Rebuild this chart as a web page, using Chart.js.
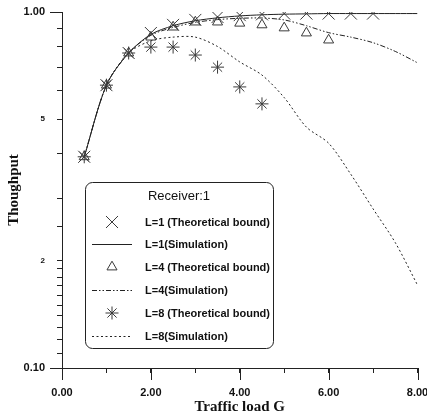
<!DOCTYPE html>
<html>
<head>
<meta charset="utf-8">
<script src="https://cdn.jsdelivr.net/npm/chart.js@4/dist/chart.umd.min.js"></script>
<style>
  html, body { margin: 0; padding: 0; background: #fff; }
  #wrap { width: 427px; height: 416px; }
</style>
</head>
<body>
<div id="wrap"><canvas id="chart" width="427" height="416"></canvas></div>
<script>
// Traffic load values (x)
const loadsSim = [0.5, 1.0, 1.5, 2.0, 2.5, 3.0, 3.5, 4.0, 4.5, 5.0, 5.5, 6.0, 6.5, 7.0, 7.5, 8.0];
const loadsL1 = [0.5, 1.0, 1.5, 2.0, 2.5, 3.0, 3.5, 4.0, 4.5, 5.0, 5.5, 6.0, 6.5, 7.0];
const loadsL4 = [0.5, 1.0, 1.5, 2.0, 2.5, 3.0, 3.5, 4.0, 4.5, 5.0, 5.5, 6.0];
const loadsL8 = [0.5, 1.0, 1.5, 2.0, 2.5, 3.0, 3.5, 4.0, 4.5];

// Throughput values
const l1Theory = [0.392, 0.623, 0.767, 0.873, 0.92, 0.95, 0.968, 0.98, 0.985, 0.99, 0.99, 0.99, 0.99, 0.99];
const l1Sim = [0.392, 0.623, 0.767, 0.865, 0.915, 0.945, 0.963, 0.975, 0.982, 0.986, 0.988, 0.99, 0.99, 0.99, 0.99, 0.99];
const l4Theory = [0.392, 0.623, 0.767, 0.85, 0.907, 0.937, 0.937, 0.93, 0.92, 0.902, 0.873, 0.834];
const l4Sim = [0.392, 0.623, 0.767, 0.86, 0.905, 0.935, 0.952, 0.96, 0.962, 0.95, 0.915, 0.875, 0.85, 0.82, 0.775, 0.72];
const l8Theory = [0.392, 0.623, 0.767, 0.797, 0.797, 0.757, 0.70, 0.616, 0.552];
const l8Sim = [0.392, 0.623, 0.767, 0.83, 0.85, 0.85, 0.80, 0.724, 0.665, 0.575, 0.475, 0.428, 0.35, 0.28, 0.225, 0.171];

// Labels
const legendTitle = 'Receiver:1';
const seriesNames = [
    'L=1 (Theoretical bound)',
    'L=1(Simulation)',
    'L=4 (Theoretical bound)',
    'L=4(Simulation)',
    'L=8 (Theoretical bound)',
    'L=8(Simulation)'
];
const yTickText = { 1: '1.00', 0.5: '5', 0.2: '2', 0.1: '0.10' };

const INK = '#222';
const MARK = '#3a3a3a';

function toPoints(xs, ys) {
    return xs.map((x, i) => ({ x: x, y: ys[i] }));
}

function markerSet(label, xs, ys, style, radius) {
    return {
        label: label,
        data: toPoints(xs, ys),
        showLine: false,
        pointStyle: style,
        pointRadius: radius,
        pointHoverRadius: radius,
        pointBorderColor: MARK,
        pointBackgroundColor: 'rgba(0,0,0,0)',
        pointBorderWidth: 1,
        order: 0
    };
}

function lineSet(label, xs, ys, dash) {
    return {
        label: label,
        data: toPoints(xs, ys),
        borderColor: INK,
        borderWidth: 1,
        borderDash: dash,
        pointRadius: 0,
        tension: 0.3,
        fill: false,
        order: 1
    };
}

const datasets = [
    markerSet(seriesNames[0], loadsL1, l1Theory, 'crossRot', 8.5),
    lineSet(seriesNames[1], loadsSim, l1Sim, []),
    markerSet(seriesNames[2], loadsL4, l4Theory, 'triangle', 5.8),
    lineSet(seriesNames[3], loadsSim, l4Sim, [5, 2, 1.5, 2, 1.5, 2]),
    markerSet(seriesNames[4], loadsL8, l8Theory, 'star', 6.5),
    lineSet(seriesNames[5], loadsSim, l8Sim, [2, 2.5])
];

// Rounded legend box and longer major ticks
const figurePlugin = {
    id: 'figure',
    afterDraw(chart) {
        const ctx = chart.ctx;
        const xs = chart.scales.x;
        const ys = chart.scales.y;
        ctx.save();
        ctx.strokeStyle = INK;
        ctx.lineWidth = 1;

        // major ticks
        [1, 0.1].forEach(v => {
            const py = Math.round(ys.getPixelForValue(v)) + 0.5;
            ctx.beginPath();
            ctx.moveTo(xs.left - 12, py);
            ctx.lineTo(xs.left, py);
            ctx.stroke();
        });
        [0, 2, 4, 6, 8].forEach(v => {
            const px = Math.round(xs.getPixelForValue(v)) + 0.5;
            ctx.beginPath();
            ctx.moveTo(px, ys.bottom);
            ctx.lineTo(px, ys.bottom + 12);
            ctx.stroke();
        });

        // legend box
        const bx = 85.5, by = 182.5, bw = 188, bh = 166, r = 7;
        ctx.fillStyle = '#fff';
        ctx.beginPath();
        ctx.moveTo(bx + r, by);
        ctx.arcTo(bx + bw, by, bx + bw, by + bh, r);
        ctx.arcTo(bx + bw, by + bh, bx, by + bh, r);
        ctx.arcTo(bx, by + bh, bx, by, r);
        ctx.arcTo(bx, by, bx + bw, by, r);
        ctx.closePath();
        ctx.fill();
        ctx.stroke();

        ctx.fillStyle = '#111';
        ctx.font = '13px "Liberation Sans", Arial, sans-serif';
        ctx.textAlign = 'center';
        ctx.textBaseline = 'middle';
        ctx.fillText(legendTitle, 179, 196);

        const rowY = [222, 244, 267, 290, 313, 336];
        const sx = 112;
        ctx.font = 'bold 11px "Liberation Sans", Arial, sans-serif';
        ctx.textAlign = 'left';
        datasets.forEach((ds, i) => {
            const y = rowY[i];
            ctx.strokeStyle = ds.showLine === false ? MARK : INK;
            ctx.setLineDash([]);
            if (ds.showLine === false) {
                ctx.fillStyle = 'rgba(0,0,0,0)';
                Chart.helpers.drawPoint(ctx, {
                    pointStyle: ds.pointStyle,
                    radius: ds.pointRadius,
                    borderWidth: 1,
                    rotation: 0
                }, sx, y);
            } else {
                ctx.setLineDash(ds.borderDash);
                ctx.beginPath();
                ctx.moveTo(92, y + 0.5);
                ctx.lineTo(132, y + 0.5);
                ctx.stroke();
                ctx.setLineDash([]);
            }
            ctx.fillStyle = '#111';
            ctx.fillText(ds.label, 145, y + 1);
        });
        ctx.restore();
    }
};

new Chart(document.getElementById('chart'), {
    type: 'line',
    data: { datasets: datasets },
    plugins: [figurePlugin],
    options: {
        responsive: false,
        animation: false,
        events: [],
        layout: { padding: { top: 12, right: 8, left: 0, bottom: 0 } },
        plugins: {
            legend: { display: false },
            tooltip: { enabled: false }
        },
        scales: {
            x: {
                type: 'linear',
                min: 0,
                max: 8,
                afterFit(s) { s.height = 48; s.paddingLeft = 0; s.paddingRight = 0; },
                grid: { drawOnChartArea: false, drawTicks: true, tickLength: 5, color: INK },
                border: { color: INK, width: 1 },
                ticks: {
                    stepSize: 1,
                    padding: 13,
                    maxRotation: 0,
                    color: '#111',
                    font: { family: '"Liberation Sans", Arial, sans-serif', size: 11, weight: 'bold' },
                    callback: v => (v % 2 === 0 ? v.toFixed(2) : '')
                },
                title: {
                    display: true,
                    text: 'Traffic load G',
                    color: '#111',
                    padding: { top: 0, bottom: 0 },
                    font: { family: '"Liberation Serif", "Times New Roman", serif', size: 15, weight: 'bold' }
                }
            },
            y: {
                type: 'logarithmic',
                min: 0.1,
                max: 1,
                afterFit(s) { s.width = 62; s.paddingTop = 0; s.paddingBottom = 0; },
                grid: { drawOnChartArea: false, drawTicks: true, tickLength: 5, color: INK },
                border: { color: INK, width: 1 },
                ticks: {
                    autoSkip: false,
                    padding: 12,
                    color: '#111',
                    font: ctx => {
                        const v = ctx.tick ? ctx.tick.value : 0;
                        const small = Math.abs(v - 0.5) < 1e-6 || Math.abs(v - 0.2) < 1e-6;
                        return { family: '"Liberation Sans", Arial, sans-serif', size: small ? 8 : 11, weight: 'bold' };
                    },
                    callback: v => {
                        const key = Object.keys(yTickText).find(k => Math.abs(Number(k) - v) < 1e-6);
                        return key !== undefined ? yTickText[key] : '';
                    }
                },
                title: {
                    display: true,
                    text: 'Thoughput',
                    color: '#111',
                    padding: { top: 5, bottom: 0 },
                    font: { family: '"Liberation Serif", "Times New Roman", serif', size: 15, weight: 'bold' }
                }
            }
        }
    }
});
</script>
</body>
</html>
